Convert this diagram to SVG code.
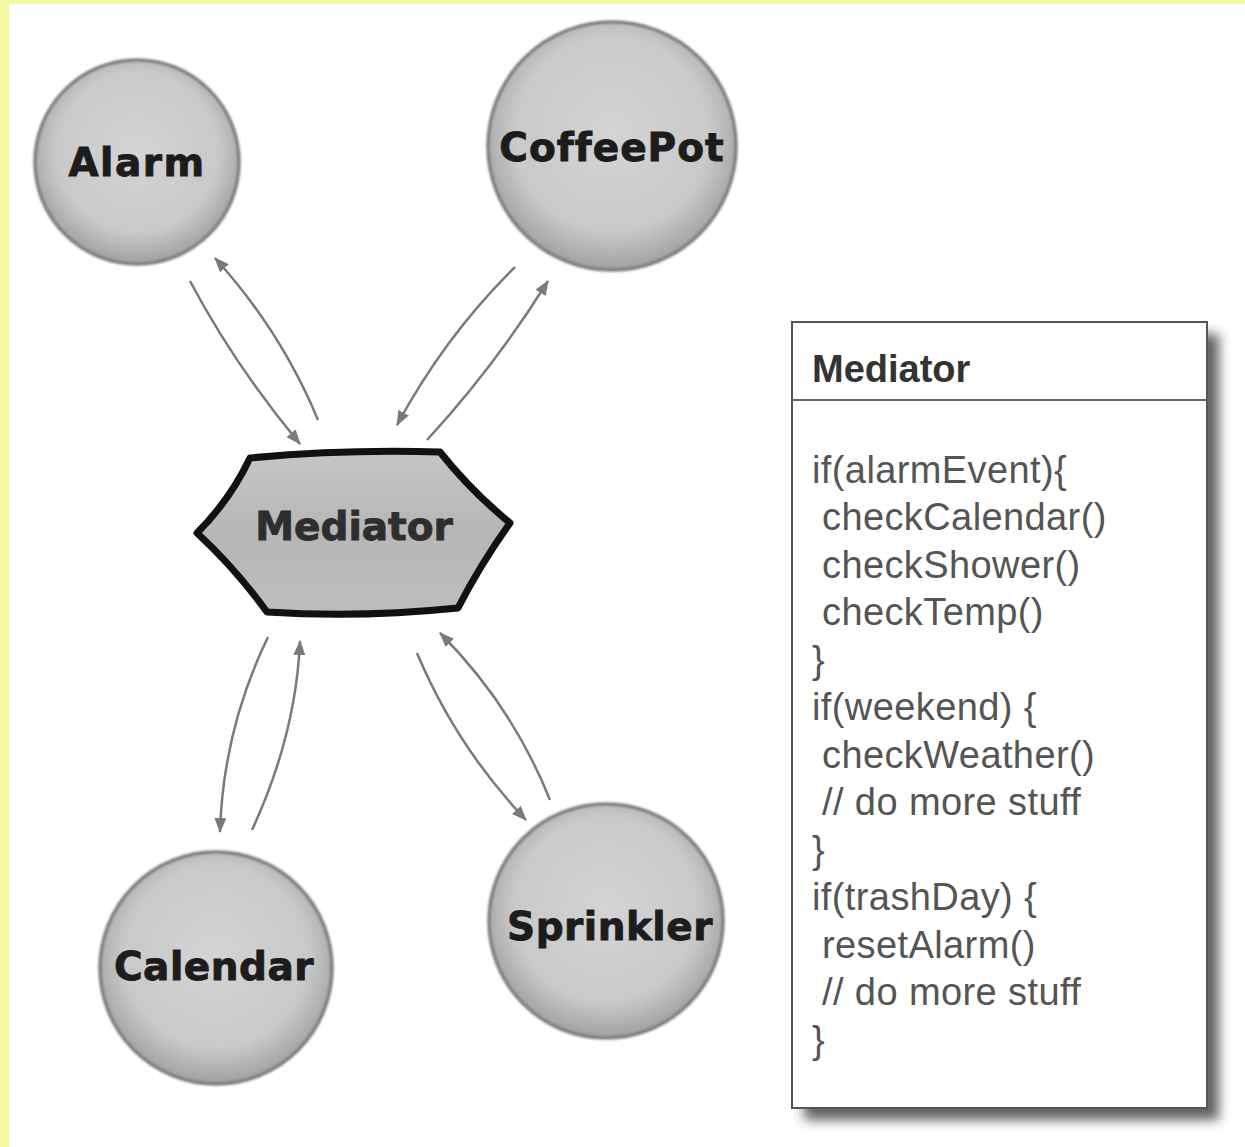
<svg xmlns="http://www.w3.org/2000/svg" width="1245" height="1147" viewBox="0 0 1245 1147">
  <style>
    .node-label { font-family: "DejaVu Sans", "Liberation Sans", sans-serif; font-weight: bold; font-size: 39px; fill: #1c1c1c; stroke: #1c1c1c; stroke-width: 0.9; text-anchor: middle; }
    .ball { fill: url(#ballFill); stroke: #7e7e7e; stroke-width: 3.5; filter: url(#soft); }
    .link { fill: none; stroke: #7a7a7a; stroke-width: 2.5; marker-end: url(#head); }
    .code { font-family: "Liberation Sans", Arial, sans-serif; font-size: 38px; fill: #555; letter-spacing: 0.4px; }
    .code-title { font-family: "Liberation Sans", Arial, sans-serif; font-weight: bold; font-size: 38px; fill: #333; }
  </style>
  <defs>
    <radialGradient id="ballFill" cx="50%" cy="45%" r="55%">
      <stop offset="0" stop-color="#d4d4d4"/>
      <stop offset="0.72" stop-color="#c9c9c9"/>
      <stop offset="1" stop-color="#a0a0a0"/>
    </radialGradient>
    <linearGradient id="hexFill" x1="0" y1="0" x2="0" y2="1">
      <stop offset="0" stop-color="#c6c6c6"/>
      <stop offset="0.5" stop-color="#b6b6b6"/>
      <stop offset="1" stop-color="#bdbdbd"/>
    </linearGradient>
    <filter id="soft" x="-10%" y="-10%" width="120%" height="120%">
      <feGaussianBlur stdDeviation="1.2"/>
    </filter>
    <filter id="shadow" x="-20%" y="-20%" width="140%" height="140%">
      <feGaussianBlur stdDeviation="6"/>
    </filter>
    <marker id="head" markerUnits="userSpaceOnUse" markerWidth="18" markerHeight="14" refX="14" refY="6" orient="auto">
      <path d="M0,0 L15,6 L0,12 Z" fill="#7a7a7a"/>
    </marker>
  </defs>

  <!-- page -->
  <rect x="0" y="0" width="1245" height="1147" fill="#ffffff"/>
  <rect x="0" y="0" width="1245" height="4" fill="#f5f9a0"/>
  <rect x="0" y="0" width="9" height="1147" fill="#f5f9a0"/>

  <!-- connectors -->
  <g id="connectors">
    <path class="link" d="M190,281 Q235,366 300,444"/>
    <path class="link" d="M318,420 Q281,331 215,258"/>
    <path class="link" d="M515,267 Q445,336 397,425"/>
    <path class="link" d="M427,440 Q495,366 548,281"/>
    <path class="link" d="M268,637 Q223,730 220,832"/>
    <path class="link" d="M252,830 Q296,735 300,641"/>
    <path class="link" d="M417,653 Q456,746 526,820"/>
    <path class="link" d="M550,800 Q512,705 440,633"/>
  </g>

  <!-- colleague nodes -->
  <g id="alarm">
    <circle class="ball" cx="137" cy="162" r="102"/>
    <text class="node-label" x="137" y="176" letter-spacing="1.5">Alarm</text>
  </g>
  <g id="coffeepot">
    <circle class="ball" cx="612" cy="146" r="124"/>
    <text class="node-label" x="612" y="161" letter-spacing="1">CoffeePot</text>
  </g>
  <g id="calendar">
    <circle class="ball" cx="216" cy="968" r="116"/>
    <text class="node-label" x="214" y="980" letter-spacing="0.5">Calendar</text>
  </g>
  <g id="sprinkler">
    <circle class="ball" cx="606" cy="921" r="117"/>
    <text class="node-label" x="610" y="940" letter-spacing="0.5">Sprinkler</text>
  </g>

  <!-- mediator node -->
  <g id="mediator">
    <path d="M197,533 Q230,500 250,458 Q345,449 440,452 Q470,490 510,523 Q480,565 458,608 Q360,618 267,612 Q235,568 197,533 Z"
          fill="url(#hexFill)" stroke="#111" stroke-width="7" stroke-linejoin="round"/>
    <text class="node-label" x="354" y="540" style="fill:#2e2e2e;stroke:#2e2e2e">Mediator</text>
  </g>

  <!-- mediator class box -->
  <g id="mediator-class">
    <rect x="804" y="334" width="415" height="786" fill="#3a3a3a" opacity="0.8" filter="url(#shadow)"/>
    <rect x="792" y="322" width="415" height="786" fill="#ffffff" stroke="#555" stroke-width="2"/>
    <line x1="792" y1="400" x2="1207" y2="400" stroke="#666" stroke-width="2"/>
    <text class="code-title" x="812" y="382">Mediator</text>
    <text class="code" x="812" y="483">if(alarmEvent){</text>
    <text class="code" x="822" y="530">checkCalendar()</text>
    <text class="code" x="822" y="578">checkShower()</text>
    <text class="code" x="822" y="625">checkTemp()</text>
    <text class="code" x="812" y="673">}</text>
    <text class="code" x="812" y="720">if(weekend) {</text>
    <text class="code" x="822" y="768">checkWeather()</text>
    <text class="code" x="822" y="815">// do more stuff</text>
    <text class="code" x="812" y="863">}</text>
    <text class="code" x="812" y="910">if(trashDay) {</text>
    <text class="code" x="822" y="958">resetAlarm()</text>
    <text class="code" x="822" y="1005">// do more stuff</text>
    <text class="code" x="812" y="1053">}</text>
  </g>
</svg>
